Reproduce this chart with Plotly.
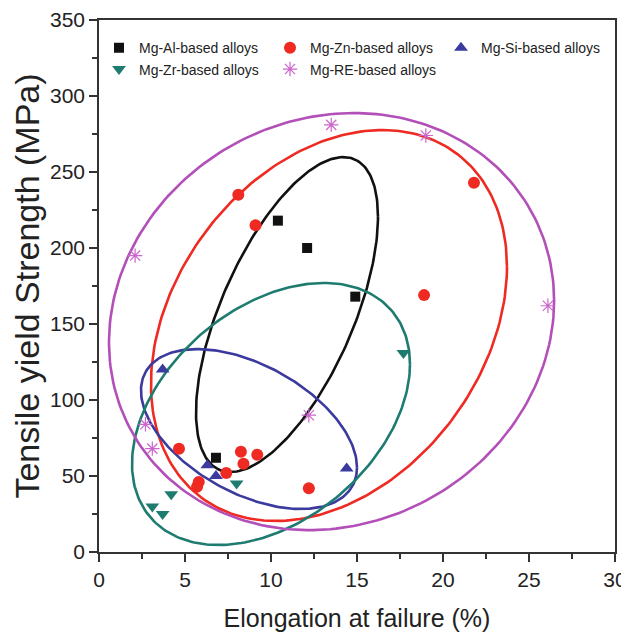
import numpy as np
import plotly.graph_objects as go

# ---- data (elongation %, yield strength MPa) ----
al_x = [10.4, 12.1, 14.9, 6.8]
al_y = [218, 200, 168, 62]
zn_x = [8.1, 9.1, 21.8, 18.9, 12.2, 4.65, 8.25, 9.2, 8.4, 7.4, 5.8, 5.7]
zn_y = [235, 215, 243, 169, 42, 68, 66, 64, 58, 52, 46, 43]
si_x = [3.7, 6.3, 6.8, 14.4]
si_y = [120, 57, 50, 55]
zr_x = [17.7, 8.0, 4.2, 3.1, 3.7]
zr_y = [131, 45, 38, 30, 25]
re_x = [2.1, 13.5, 19.0, 26.1, 2.7, 3.1, 12.2]
re_y = [195, 281, 274, 162, 84, 68, 90]

# ellipse parameters: centre x, centre y, half-range x, half-range y, correlation
al_ell = [10.93, 156.2, 5.29, 103.6, 0.62]
zn_ell = [13.37, 149.0, 10.35, 128.6, 0.30]
si_ell = [8.72, 80.9, 6.28, 52.6, -0.48]
zr_ell = [10.0, 90.8, 8.08, 86.2, 0.38]
re_ell = [13.52, 151.6, 12.94, 137.2, 0.10]

labels = ["Mg-Al-based alloys", "Mg-Zn-based alloys", "Mg-Si-based alloys",
          "Mg-Zr-based alloys", "Mg-RE-based alloys"]

x_ticks = [0, 5, 10, 15, 20, 25, 30]
y_ticks = [0, 50, 100, 150, 200, 250, 300, 350]

colors = ["#111111", "#ee2a22", "#3b3a9e", "#1e7b70", "#b24fb8"]
mcolors = ["#111111", "#ee2a22", "#3b3a9e", "#1e7b70", "#cc66cc"]
symbols = ["square", "circle", "triangle-up", "triangle-down", "asterisk-open"]


def ellipse(p, n=240):
    cx, cy, sx, sy, r = p
    t = np.linspace(0, 2 * np.pi, n)
    ex = cx + sx * np.cos(t)
    ey = cy + sy * (r * np.cos(t) + np.sqrt(1 - r * r) * np.sin(t))
    return ex, ey


fig = go.Figure()
series = [(al_x, al_y, al_ell), (zn_x, zn_y, zn_ell), (si_x, si_y, si_ell),
          (zr_x, zr_y, zr_ell), (re_x, re_y, re_ell)]

for i, (xs, ys, ep) in enumerate(series):
    ex, ey = ellipse(ep)
    fig.add_trace(go.Scatter(x=ex, y=ey, mode="lines", showlegend=False,
                             line=dict(color=colors[i], width=2.6),
                             hoverinfo="skip"))

for i, (xs, ys, ep) in enumerate(series):
    sym = symbols[i]
    size = {"square": 10, "circle": 12, "triangle-up": 12,
            "triangle-down": 12, "asterisk-open": 12}[sym]
    marker = dict(symbol=sym, size=size, color=mcolors[i])
    if sym == "asterisk-open":
        marker["line"] = dict(color=mcolors[i], width=1.2)
    else:
        marker["line"] = dict(width=0)
    fig.add_trace(go.Scatter(x=xs, y=ys, mode="markers", name=labels[i],
                             marker=marker))

axis_font = dict(family="Liberation Sans, Arial, sans-serif", size=21, color="#222222")

fig.update_layout(
    width=629, height=640,
    margin=dict(l=91, r=22, t=12, b=96),
    paper_bgcolor="white", plot_bgcolor="white",
    font=dict(family="Liberation Sans, Arial, sans-serif", color="#222222"),
    legend=dict(orientation="h", x=0.0, y=0.977, xanchor="left", yanchor="top",
                entrywidth=126, entrywidthmode="pixels",
                font=dict(size=14, color="#222222"),
                bgcolor="rgba(0,0,0,0)", itemwidth=30, tracegroupgap=0),
    showlegend=True,
)

fig.update_xaxes(range=[0, 30], tickvals=x_ticks, ticktext=[str(v) for v in x_ticks],
                 showgrid=False, zeroline=False, showline=True, linecolor="#333333",
                 linewidth=1.5, mirror=True, ticks="outside", ticklen=8, tickwidth=1.5,
                 tickcolor="#333333", tickfont=axis_font, automargin=False,
                 minor=dict(tickvals=[2.5, 7.5, 12.5, 17.5, 22.5, 27.5], ticks="outside",
                            ticklen=5, tickwidth=1.5, tickcolor="#333333"),
                 title=dict(text="Elongation at failure (%)", font=dict(size=25, color="#222222"),
                            standoff=20))
fig.update_yaxes(range=[0, 350], tickvals=y_ticks, ticktext=[str(v) for v in y_ticks],
                 showgrid=False, zeroline=False, showline=True, linecolor="#333333",
                 linewidth=1.5, mirror=True, ticks="outside", ticklen=8, tickwidth=1.5,
                 tickcolor="#333333", tickfont=axis_font, automargin=False,
                 minor=dict(tickvals=[25, 75, 125, 175, 225, 275, 325], ticks="outside",
                            ticklen=5, tickwidth=1.5, tickcolor="#333333"),
                 title=dict(text="Tensile yield Strength (MPa)", font=dict(size=34, color="#222222"),
                            standoff=4))

fig.write_html("out.html")
